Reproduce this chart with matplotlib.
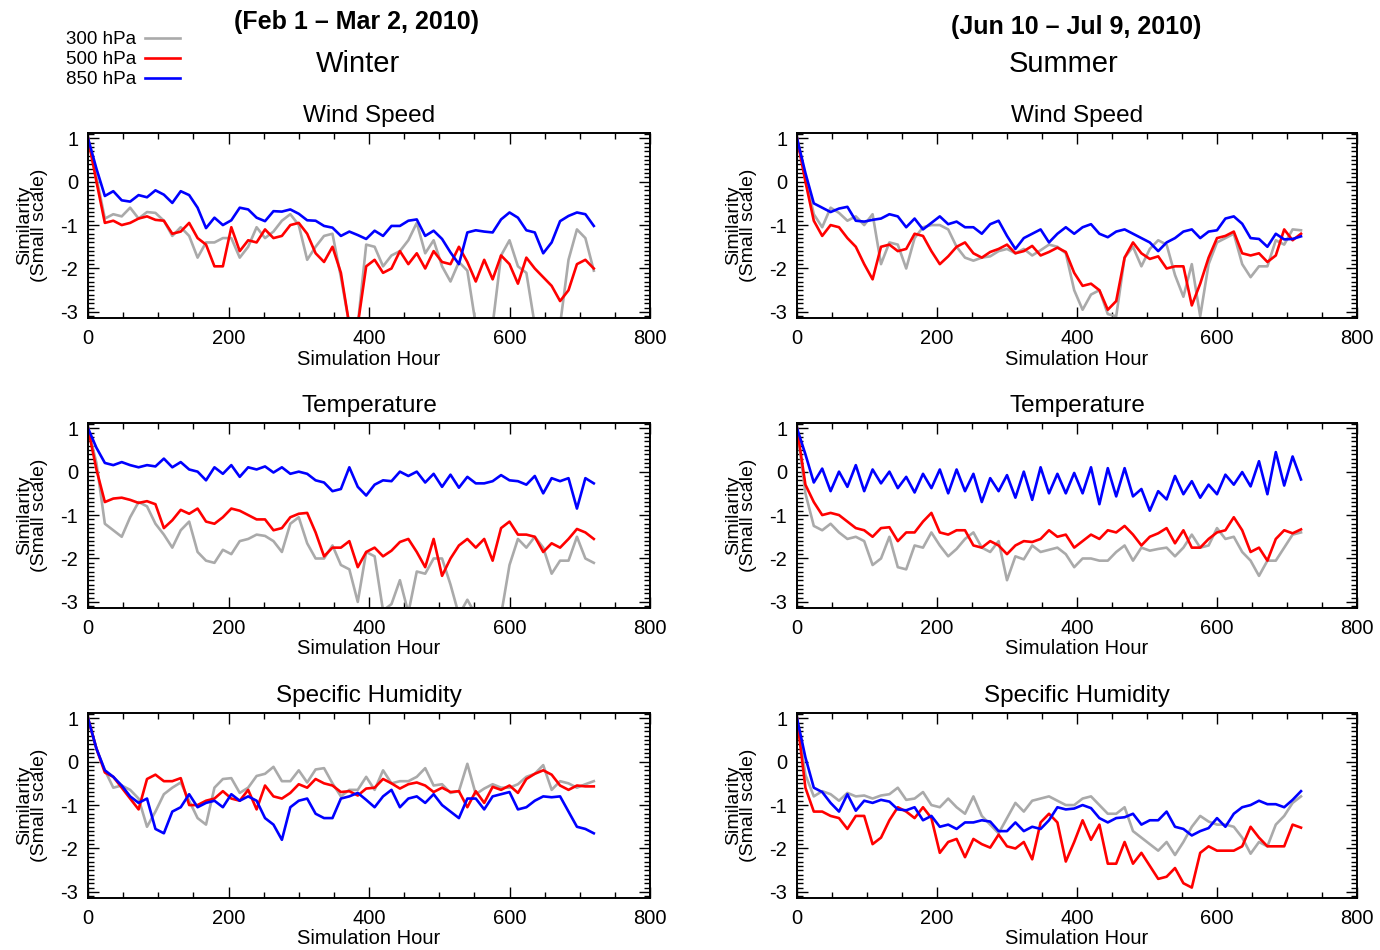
import numpy as np
import matplotlib
matplotlib.use("Agg")
import matplotlib.pyplot as plt
from matplotlib.ticker import MultipleLocator

plt.rcParams['font.family'] = ['Liberation Sans', 'DejaVu Sans']
plt.rcParams['axes.unicode_minus'] = False

# %% data: similarity every 12 simulation hours (0..720)
hours = np.arange(0, 721, 12)

# winter, wind speed
ww_300 = [1.0, 0.1, -0.85, -0.75, -0.8, -0.6, -0.85, -0.7, -0.72, -0.9, -1.25, -1.05, -1.25, -1.75, -1.4, -1.4, -1.3, -1.3,
          -1.75, -1.5, -1.05, -1.3, -1.15, -0.9, -0.75, -1.0, -1.8, -1.5, -1.25, -1.2, -2.2, -3.3, -3.3, -1.45, -1.5,
          -1.95, -1.7, -1.6, -1.35, -0.95, -1.65, -1.35, -1.95, -2.3, -1.85, -2.05, -3.3, -3.3, -3.3, -1.7, -1.35, -1.95,
          -2.1, -3.3, -3.3, -3.3, -3.3, -1.8, -1.1, -1.3, -2.05]
ww_500 = [1.0, 0.0, -0.95, -0.9, -1.0, -0.95, -0.85, -0.8, -0.88, -0.9, -1.2, -1.15, -0.95, -1.3, -1.45, -1.95, -1.95, -1.05,
          -1.6, -1.35, -1.4, -1.1, -1.3, -1.25, -1.0, -0.95, -1.2, -1.65, -1.85, -1.5, -2.1, -3.3, -3.3, -1.95, -1.8,
          -2.1, -2.0, -1.6, -1.9, -1.65, -2.0, -1.6, -1.85, -1.9, -1.5, -1.85, -2.3, -1.8, -2.25, -1.7, -1.9, -2.35,
          -1.75, -2.0, -2.2, -2.4, -2.75, -2.5, -1.9, -1.8, -2.0]
ww_850 = [1.0, 0.3, -0.33, -0.22, -0.43, -0.46, -0.31, -0.36, -0.2, -0.3, -0.49, -0.22, -0.31, -0.6, -1.07, -0.83, -1.0, -0.89,
          -0.6, -0.64, -0.83, -0.91, -0.68, -0.69, -0.64, -0.74, -0.89, -0.9, -1.02, -1.06, -1.25, -1.15, -1.23, -1.32, -1.13,
          -1.25, -1.02, -1.02, -0.9, -0.87, -1.25, -1.13, -1.32, -1.63, -1.9, -1.17, -1.12, -1.15, -1.17, -0.87, -0.71, -0.83,
          -1.12, -1.17, -1.65, -1.4, -0.91, -0.79, -0.71, -0.75, -1.02]

# winter, temperature
wt_300 = [1.0, 0.2, -1.2, -1.35, -1.5, -1.05, -0.7, -0.8, -1.2, -1.45, -1.75, -1.35, -1.15, -1.85, -2.05, -2.1, -1.8, -1.9,
          -1.6, -1.55, -1.45, -1.48, -1.6, -1.85, -1.2, -1.05, -1.65, -2.0, -2.0, -1.7, -2.15, -2.25, -3.0, -1.85, -1.95,
          -3.2, -3.05, -2.5, -3.25, -2.3, -2.35, -2.0, -2.0, -2.6, -3.3, -2.95, -3.3, -3.3, -3.3, -3.3, -2.15, -1.55,
          -1.75, -1.5, -1.75, -2.35, -2.05, -2.05, -1.5, -2.0, -2.1]
wt_500 = [1.0, 0.05, -0.7, -0.62, -0.6, -0.65, -0.72, -0.68, -0.75, -1.3, -1.12, -0.88, -0.97, -0.85, -1.15, -1.2, -1.05, -0.85,
          -0.9, -1.0, -1.1, -1.1, -1.35, -1.3, -1.05, -0.97, -0.95, -1.4, -1.95, -1.75, -1.75, -1.6, -2.2, -1.85, -1.75,
          -1.95, -1.82, -1.62, -1.55, -1.85, -2.2, -1.55, -2.4, -2.0, -1.7, -1.55, -1.75, -1.55, -2.05, -1.3, -1.15, -1.45,
          -1.45, -1.5, -1.85, -1.65, -1.75, -1.55, -1.32, -1.4, -1.55]
wt_850 = [1.0, 0.55, 0.2, 0.15, 0.22, 0.15, 0.1, 0.15, 0.12, 0.3, 0.1, 0.22, 0.05, 0.0, -0.2, 0.1, -0.05, 0.15,
          -0.12, 0.1, 0.05, 0.12, -0.02, 0.1, -0.05, 0.0, -0.05, -0.2, -0.25, -0.45, -0.4, 0.1, -0.35, -0.55, -0.3,
          -0.2, -0.22, 0.0, -0.1, 0.0, -0.25, -0.05, -0.35, -0.07, -0.37, -0.12, -0.27, -0.27, -0.22, -0.08, -0.2, -0.22,
          -0.3, -0.1, -0.5, -0.15, -0.22, -0.15, -0.85, -0.15, -0.27]

# winter, specific humidity
wh_300 = [1.0, 0.3, -0.2, -0.6, -0.55, -0.65, -0.85, -1.5, -1.15, -0.75, -0.6, -0.48, -0.9, -1.3, -1.45, -0.6, -0.4, -0.38,
          -0.72, -0.6, -0.33, -0.28, -0.12, -0.45, -0.45, -0.2, -0.48, -0.18, -0.15, -0.5, -0.8, -0.65, -0.65, -0.35, -0.65,
          -0.2, -0.5, -0.45, -0.45, -0.35, -0.15, -0.55, -0.52, -0.72, -0.68, -0.05, -0.75, -0.62, -0.52, -0.6, -0.6, -0.52,
          -0.35, -0.28, -0.08, -0.65, -0.45, -0.5, -0.6, -0.52, -0.45]
wh_500 = [1.0, 0.3, -0.25, -0.35, -0.6, -0.85, -1.1, -0.4, -0.3, -0.45, -0.45, -0.38, -1.0, -1.0, -0.9, -0.85, -0.68, -0.85,
          -0.9, -0.65, -1.1, -0.55, -0.8, -0.85, -0.72, -0.52, -0.6, -0.4, -0.5, -0.55, -0.7, -0.68, -0.78, -0.62, -0.6,
          -0.4, -0.5, -0.62, -0.52, -0.48, -0.55, -0.7, -0.6, -0.7, -0.68, -1.05, -0.68, -0.95, -0.58, -0.65, -0.55, -0.72,
          -0.4, -0.28, -0.2, -0.3, -0.55, -0.65, -0.55, -0.57, -0.57]
wh_850 = [1.0, 0.3, -0.2, -0.35, -0.55, -0.8, -0.95, -0.85, -1.55, -1.65, -1.15, -1.05, -0.75, -1.05, -0.95, -0.9, -1.05, -0.75,
          -0.9, -0.8, -0.9, -1.3, -1.45, -1.8, -1.05, -0.9, -0.85, -1.2, -1.3, -1.3, -0.85, -0.8, -0.72, -0.88, -1.05,
          -0.8, -0.65, -1.05, -0.85, -0.8, -0.95, -0.75, -1.0, -1.15, -1.3, -0.85, -0.85, -1.1, -0.8, -0.75, -0.7, -1.1,
          -1.05, -0.9, -0.8, -0.82, -0.8, -1.15, -1.5, -1.55, -1.65]

# summer, wind speed
sw_300 = [1.0, 0.1, -0.75, -1.05, -0.6, -0.72, -0.9, -0.8, -1.0, -0.75, -1.9, -1.4, -1.45, -2.0, -1.3, -1.05, -1.0, -1.0,
          -1.1, -1.5, -1.75, -1.82, -1.75, -1.72, -1.6, -1.55, -1.65, -1.55, -1.7, -1.58, -1.45, -1.5, -1.65, -2.5, -2.95,
          -2.6, -2.5, -3.05, -3.1, -1.75, -1.5, -1.95, -1.55, -1.35, -1.45, -2.15, -2.65, -1.9, -3.1, -1.9, -1.4, -1.3,
          -1.2, -1.9, -2.2, -1.95, -1.95, -1.35, -1.45, -1.1, -1.12]
sw_500 = [1.0, 0.0, -0.9, -1.25, -1.0, -1.05, -1.3, -1.5, -1.9, -2.25, -1.5, -1.45, -1.6, -1.55, -1.2, -1.25, -1.6, -1.9,
          -1.72, -1.5, -1.4, -1.65, -1.75, -1.62, -1.55, -1.45, -1.65, -1.6, -1.48, -1.7, -1.62, -1.52, -1.62, -2.1, -2.4,
          -2.35, -2.5, -2.95, -2.75, -1.75, -1.4, -1.65, -1.78, -1.72, -2.0, -1.95, -1.95, -2.85, -2.35, -1.75, -1.3, -1.25,
          -1.15, -1.65, -1.7, -1.65, -1.85, -1.7, -1.1, -1.35, -1.2]
sw_850 = [1.0, 0.2, -0.5, -0.6, -0.7, -0.62, -0.58, -0.9, -0.92, -0.88, -0.85, -0.75, -0.8, -1.05, -0.85, -1.1, -0.95, -0.8,
          -0.98, -0.92, -1.05, -1.05, -1.2, -0.98, -0.9, -1.25, -1.55, -1.3, -1.2, -1.1, -1.4, -1.2, -1.05, -1.2, -1.05,
          -0.98, -1.2, -1.28, -1.15, -1.1, -1.2, -1.3, -1.4, -1.6, -1.4, -1.3, -1.15, -1.1, -1.3, -1.15, -1.12, -0.85,
          -0.8, -0.97, -1.3, -1.32, -1.5, -1.2, -1.33, -1.32, -1.26]

# summer, temperature
st_300 = [1.0, -0.5, -1.25, -1.35, -1.2, -1.4, -1.55, -1.5, -1.6, -2.15, -2.0, -1.5, -2.2, -2.25, -1.7, -1.75, -1.4, -1.7,
          -1.95, -1.78, -1.55, -1.4, -1.75, -1.85, -1.6, -2.5, -1.95, -2.02, -1.7, -1.85, -1.8, -1.75, -1.9,
          -2.2, -2.0, -2.0, -2.05, -2.05, -1.85, -1.7, -2.05, -1.75, -1.82, -1.78, -1.75, -1.95, -1.75, -1.45, -1.75, -1.7,
          -1.3, -1.55, -1.5, -1.85, -2.05, -2.4, -2.05, -2.05, -1.75, -1.45, -1.4]
st_500 = [1.0, -0.3, -0.7, -1.0, -0.95, -1.0, -1.15, -1.3, -1.35, -1.5, -1.3, -1.28, -1.6, -1.4, -1.4, -1.15, -0.95, -1.4,
          -1.45, -1.35, -1.35, -1.7, -1.75, -1.6, -1.7, -1.9, -1.7, -1.6, -1.62, -1.55, -1.35, -1.5, -1.45,
          -1.75, -1.6, -1.45, -1.55, -1.35, -1.4, -1.25, -1.45, -1.7, -1.5, -1.42, -1.3, -1.65, -1.35, -1.75, -1.75, -1.55,
          -1.4, -1.35, -1.05, -1.35, -1.85, -1.75, -2.05, -1.55, -1.35, -1.42, -1.33]
st_850 = [1.0, 0.4, -0.25, 0.07, -0.45, 0.0, -0.35, 0.15, -0.45, 0.05, -0.27, 0.0, -0.38, -0.12, -0.48, -0.05, -0.38, 0.05,
          -0.5, 0.05, -0.45, -0.05, -0.7, -0.15, -0.45, -0.08, -0.6, 0.0, -0.65, 0.1, -0.5, -0.05, -0.5,
          -0.03, -0.5, 0.1, -0.75, 0.08, -0.57, 0.08, -0.57, -0.4, -0.9, -0.45, -0.64, -0.1, -0.52, -0.22, -0.6, -0.3,
          -0.52, -0.07, -0.3, -0.01, -0.34, 0.24, -0.52, 0.45, -0.32, 0.35, -0.18]

# summer, specific humidity
sh_300 = [1.0, -0.3, -0.8, -0.68, -0.75, -0.9, -0.72, -0.8, -0.78, -0.85, -0.78, -0.75, -0.6, -0.88, -0.85, -0.7, -1.0, -1.05,
          -0.85, -1.05, -1.2, -0.8, -1.25, -1.45, -1.65, -1.3, -0.95, -1.15, -0.9, -0.85, -0.8, -0.9, -1.0, -1.0,
          -0.85, -0.8, -1.0, -1.2, -1.2, -1.05, -1.6, -1.75, -1.9, -2.05, -1.85, -2.15, -1.85, -1.5, -1.25, -1.38, -1.45,
          -1.45, -1.5, -1.75, -2.12, -1.85, -1.95, -1.45, -1.25, -0.95, -0.8]
sh_500 = [1.0, -0.6, -1.15, -1.15, -1.25, -1.3, -1.55, -1.25, -1.25, -1.9, -1.75, -1.35, -1.05, -1.15, -1.3, -1.05, -1.3, -2.1,
          -1.85, -1.78, -2.2, -1.78, -1.9, -1.98, -1.68, -1.95, -2.0, -1.85, -2.25, -1.4, -1.2, -1.4, -2.3, -1.85,
          -1.35, -1.8, -1.45, -2.35, -2.35, -1.85, -2.35, -2.1, -2.4, -2.7, -2.65, -2.45, -2.8, -2.9, -2.1, -1.95, -2.05,
          -2.05, -2.05, -1.95, -1.5, -1.75, -1.95, -1.95, -1.95, -1.45, -1.52]
sh_850 = [1.0, 0.1, -0.6, -0.7, -0.95, -1.15, -0.75, -1.13, -0.9, -0.95, -0.88, -0.92, -1.1, -1.12, -1.05, -1.35, -1.25, -1.5,
          -1.45, -1.55, -1.4, -1.4, -1.35, -1.38, -1.6, -1.6, -1.4, -1.6, -1.5, -1.55, -1.35, -1.05, -1.1, -1.08,
          -1.0, -1.07, -1.3, -1.4, -1.3, -1.28, -1.2, -1.45, -1.35, -1.35, -1.15, -1.5, -1.55, -1.7, -1.6, -1.53, -1.3,
          -1.5, -1.2, -1.05, -1.0, -0.9, -0.98, -0.98, -1.05, -0.88, -0.68]

levels = ['300 hPa', '500 hPa', '850 hPa']
colors = ['#aaaaaa', '#ff0000', '#0000ff']
titles = ['Wind Speed', 'Temperature', 'Specific Humidity']

# %% layout
W, H = 1380, 950
fig = plt.figure(figsize=(W / 100, H / 100), dpi=100)

col_left = [88, 797]
col_width = [562, 560]
row_top = [133, 423, 713]
ax_h = 185

panels = [
    [(ww_300, ww_500, ww_850), (sw_300, sw_500, sw_850)],
    [(wt_300, wt_500, wt_850), (st_300, st_500, st_850)],
    [(wh_300, wh_500, wh_850), (sh_300, sh_500, sh_850)],
]

handles = []
for r in range(3):
    for c in range(2):
        ax = fig.add_axes([col_left[c] / W, 1 - (row_top[r] + ax_h) / H, col_width[c] / W, ax_h / H])
        for series, col in zip(panels[r][c], colors):
            ln, = ax.plot(hours, series, color=col, lw=1.9)
            if r == 0 and c == 0:
                handles.append(ln)
        ax.set_xlim(0, 800)
        ax.set_ylim(-3.14, 1.12)
        ax.xaxis.set_major_locator(MultipleLocator(200))
        ax.xaxis.set_minor_locator(MultipleLocator(50))
        ax.yaxis.set_major_locator(MultipleLocator(1))
        ax.yaxis.set_minor_locator(MultipleLocator(0.1))
        ax.tick_params(which='both', direction='in', top=True, right=True, labelsize=14.5, width=1)
        ax.tick_params(which='major', length=8)
        ax.tick_params(which='minor', length=4)
        ax.tick_params(axis='x', which='major', pad=8)
        ax.tick_params(axis='y', which='major', pad=7)
        for sp in ax.spines.values():
            sp.set_linewidth(1.4)
        ax.set_title(titles[r], fontsize=17.5, pad=8)
        ax.set_xlabel('Simulation Hour', fontsize=14.5, labelpad=1)
        ax.set_ylabel('Similarity\n(Small scale)', fontsize=14, labelpad=9, linespacing=0.85)

# header texts
fig.text(357 / W, 1 - 22 / H, '(Feb 1 \u2013 Mar 2, 2010)', fontsize=18, fontweight='bold', ha='center', va='center')
fig.text(358 / W, 1 - 64 / H, 'Winter', fontsize=21, ha='center', va='center')
fig.text(1076 / W, 1 - 27 / H, '(Jun 10 \u2013 Jul 9, 2010)', fontsize=18, fontweight='bold', ha='center', va='center')
fig.text(1064 / W, 1 - 64 / H, 'Summer', fontsize=21, ha='center', va='center')

fig.legend(handles, levels, loc='upper left', bbox_to_anchor=(66 / W, 1 - 31 / H), frameon=False,
           markerfirst=False, fontsize=13.5, handlelength=1.9, handletextpad=0.45, labelspacing=0.16,
           borderpad=0, borderaxespad=0)

fig.savefig('out.png', dpi=100)
